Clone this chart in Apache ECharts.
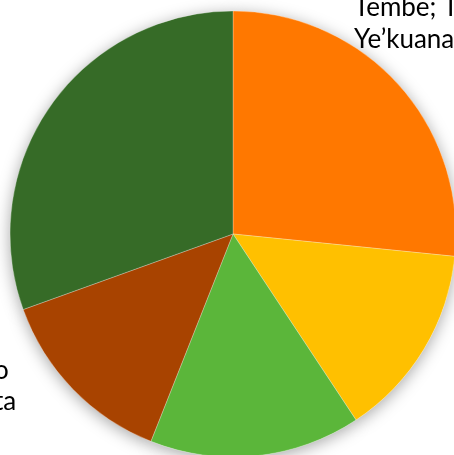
<!DOCTYPE html>
<html>
<head>
<meta charset="utf-8">
<script src="https://cdn.jsdelivr.net/npm/echarts@6/dist/echarts.min.js"></script>
<style>
html,body{margin:0;padding:0;background:#fff;}
#c{width:454px;height:455px;}
</style>
</head>
<body>
<div id="c"></div>
<script>
// Slice data (clockwise from 12 o'clock), percentages
const categories = ['Tembé; T\nYe’kuana', 'yellow', 'lightgreen', 'o\nta', 'darkgreen'];
const values = [26.6, 14.1, 15.3, 13.5, 30.5];
const colors = ['#FF7800', '#FFC000', '#5BB63A', '#A84300', '#366B27'];

const chart = echarts.init(document.getElementById('c'), null, {renderer: 'canvas'});
const FONT = 'Lato, sans-serif';

const dataMain = categories.map((n, i) => ({
  name: n, value: values[i],
  itemStyle: {color: colors[i]}
}));
const dataShadow = categories.map((n, i) => ({name: n, value: values[i]}));

chart.setOption({
  animation: false,
  backgroundColor: '#ffffff',
  series: [
    {
      type: 'pie', silent: true, z: 1,
      center: [233, 234], radius: 223, startAngle: 90,
      label: {show: false}, labelLine: {show: false},
      itemStyle: {color: '#ffffff', shadowBlur: 16, shadowColor: 'rgba(0,0,0,0.35)', shadowOffsetY: 3},
      data: dataShadow
    },
    {
      type: 'pie', z: 2,
      center: [233, 234], radius: 223, startAngle: 90,
      itemStyle: {borderColor: 'rgba(255,255,255,0.45)', borderWidth: 0.6},
      labelLine: {show: false},
      label: {show: false},
      data: dataMain
    }
  ],
  graphic: [
    {type: 'text', z: 10, x: 354, y: -8,
     style: {text: categories[0], font: '26px ' + FONT, fill: '#000', align: 'left', verticalAlign: 'top', lineHeight: 32}},
    {type: 'text', z: 10, x: -6, y: 355,
     style: {text: categories[3], font: '26px ' + FONT, fill: '#000', align: 'left', verticalAlign: 'top', lineHeight: 31}}
  ]
});
</script>
</body>
</html>
